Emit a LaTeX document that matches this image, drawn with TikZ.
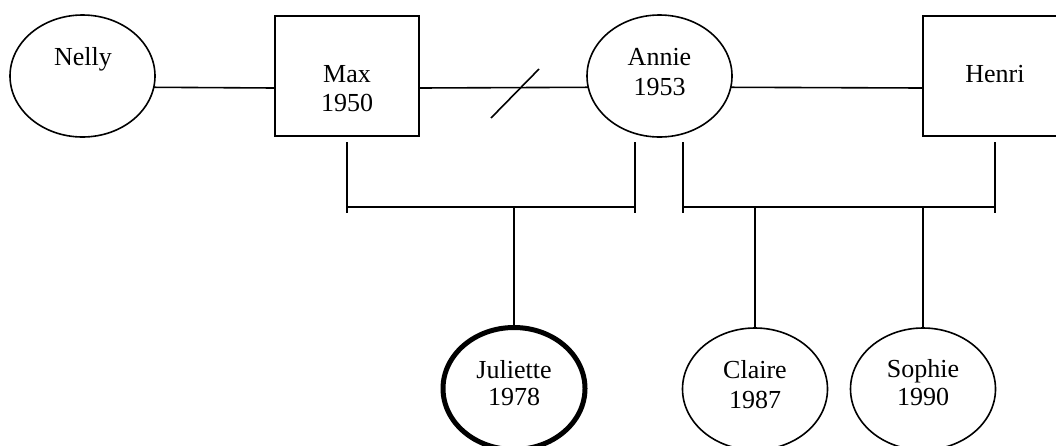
\documentclass[tikz,border=0pt]{standalone}
\usepackage{fontspec}
\setmainfont{Liberation Serif}
\usetikzlibrary{shapes.geometric}
\begin{document}
\begin{tikzpicture}[x=1pt,y=-1pt,
  line width=1.6pt,
  female/.style={draw, ellipse, inner sep=0pt, outer sep=0pt, minimum width=145pt, minimum height=122pt},
  male/.style={draw, rectangle, inner sep=0pt, outer sep=0pt, minimum width=144pt, minimum height=120pt},
  proband/.style={line width=5pt, minimum width=142pt},
  txt/.style={anchor=base, inner sep=0pt, font=\fontsize{26}{31}\selectfont}]
\useasboundingbox (0,0) rectangle (1056,445);
\clip (0,0) rectangle (1056,445);
% persons
\node[female] (nelly) at (82.5,76) {};
\node[male] (max) at (347,76) {};
\node[female] (annie) at (659.5,76) {};
\node[male] (henri) at (995,76) {};
\node[female, proband] (juliette) at (514,388.5) {};
\node[female] (claire) at (755,389) {};
\node[female] (sophie) at (923,389) {};
% texts
\node[txt] (tnelly) at (83,65) {Nelly};
\node[txt] (tmax) at (347,82) {Max};
\node[txt] (tmaxy) at (347,111) {1950};
\node[txt] (tannie) at (659.5,65) {Annie};
\node[txt] (tanniey) at (659.5,95) {1953};
\node[txt] (thenri) at (995,82) {Henri};
\node[txt] (tjul) at (514,378) {Juliette};
\node[txt] (tjuly) at (514,405) {1978};
\node[txt] (tcla) at (755,378) {Claire};
\node[txt] (tclay) at (755,408) {1987};
\node[txt] (tsop) at (923,377) {Sophie};
\node[txt] (tsopy) at (923,405) {1990};
% couple lines
\draw (nelly.-9.6) -- ([yshift=-12pt]max.west);
\draw ([yshift=-12pt]max.east) -- (annie.189.6);
\draw (annie.-9.6) -- ([yshift=-12pt]henri.west);
% divorce slash
\draw (491,118) -- (539,69);
% sibship brackets
\coordinate (m1) at (347,142); \coordinate (m2) at (347,213); \coordinate (mb) at (347,207);
\coordinate (a1) at (635,142); \coordinate (a2) at (635,213); \coordinate (ab) at (635,207);
\coordinate (b1) at (683,142); \coordinate (b2) at (683,213); \coordinate (bb) at (683,207);
\coordinate (h1) at (995,142); \coordinate (h2) at (995,213); \coordinate (hb) at (995,207);
\draw (m1) -- (m2);
\draw (a1) -- (a2);
\draw (b1) -- (b2);
\draw (h1) -- (h2);
\draw (mb) -- (ab);
\draw (bb) -- (hb);
\coordinate (jd) at (514,207);
\coordinate (cd) at (755,207);
\coordinate (sd) at (923,207);
\draw (jd) -- (juliette.north);
\draw (cd) -- (claire.north);
\draw (sd) -- (sophie.north);
\end{tikzpicture}
\end{document}
